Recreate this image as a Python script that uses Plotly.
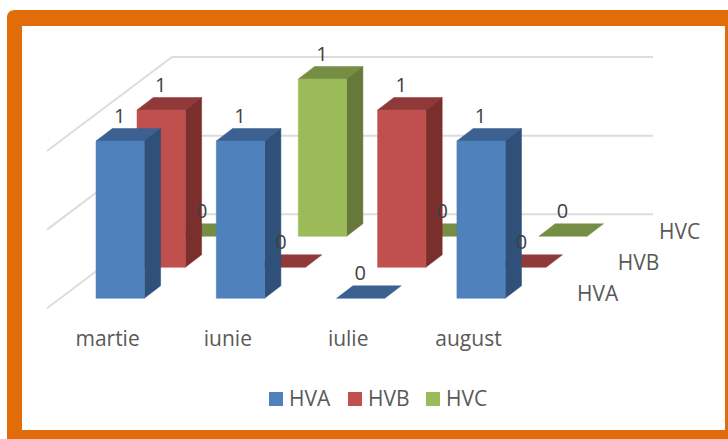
import plotly.graph_objects as go

# ---- data ----
categories = ["martie", "iunie", "iulie", "august"]
series_names = ["HVA", "HVB", "HVC"]
HVA = [1, 1, 0, 1]
HVB = [1, 0, 1, 0]
HVC = [0, 1, 0, 0]
grid_levels = [0, 0.5, 1]

# ---- style ----
FRONT = ["#4F81BD", "#C0504D", "#9BBB59"]
TOP = ["#3C6190", "#8F3A38", "#758E44"]
SIDE = ["#2F5179", "#7B2F2D", "#66793A"]
ORANGE = "#E36C0A"
FONT = "Open Sans, sans-serif"

# ---- oblique projection (pixel space) ----
X0, Y0 = 96.0, 298.3
CAT_STEP, BAR_W = 120.3, 48.3
SER_DX, SER_DY = 41.0, -31.0
DEP_DX, DEP_DY = 16.3, -12.5
UNIT_H = 157.3


def px(cat, ser, val=0.0, u=0.0, d=0.0):
    x = X0 + cat * CAT_STEP + ser * SER_DX + u * BAR_W + d * DEP_DX
    y = Y0 + ser * SER_DY - val * UNIT_H + d * DEP_DY
    return x, y


def poly(points, color, edge=None):
    xs = [p[0] for p in points] + [points[0][0]]
    ys = [p[1] for p in points] + [points[0][1]]
    return go.Scatter(x=xs, y=ys, mode="lines", fill="toself", fillcolor=color,
                      line=dict(color=edge or color, width=0.5),
                      hoverinfo="skip", showlegend=False)


fig = go.Figure()
all_series = [HVA, HVB, HVC]

# walls: grid lines
WALL_L, WALL_R = 172.0, 653.0
WALL_Y0 = 214.3
WALL_DX, WALL_DY = -125.0, 94.0
for g in grid_levels:
    yb = WALL_Y0 - g * UNIT_H
    fig.add_trace(go.Scatter(x=[WALL_L + WALL_DX, WALL_L, WALL_R],
                             y=[yb + WALL_DY, yb, yb], mode="lines",
                             line=dict(color="#DCDCDC", width=2),
                             hoverinfo="skip", showlegend=False))

# bars, back row first
for s in [2, 1, 0]:
    vals = all_series[s]
    for c, v in enumerate(vals):
        a = px(c, s, v, 0, 0)
        b = px(c, s, v, 1, 0)
        e = px(c, s, v, 1, 1)
        f = px(c, s, v, 0, 1)
        fig.add_trace(poly([a, b, e, f], TOP[s]))
        if v > 0:
            p0 = px(c, s, 0, 0, 0)
            p1 = px(c, s, 0, 1, 0)
            p2 = px(c, s, 0, 1, 1)
            fig.add_trace(poly([b, e, p2, p1], SIDE[s]))
            fig.add_trace(poly([a, b, p1, p0], FRONT[s]))

# data labels
for s in [2, 1, 0]:
    vals = all_series[s]
    pts = [px(c, s, v, 0.5, 0) for c, v in enumerate(vals)]
    fig.add_trace(go.Scatter(x=[p[0] - 0.5 for p in pts], y=[p[1] - 23 for p in pts],
                             mode="text", text=[str(v) for v in vals],
                             textposition="middle center",
                             textfont=dict(family=FONT, size=20, color="#404040"),
                             hoverinfo="skip", showlegend=False))

# category labels
cat_pts = [px(c, 0, 0, 0.25, 0) for c in range(len(categories))]
fig.add_trace(go.Scatter(x=[p[0] - 0.5 for p in cat_pts], y=[341] * len(categories),
                         mode="text", text=categories, textposition="middle center",
                         textfont=dict(family=FONT, size=21, color="#595959"),
                         hoverinfo="skip", showlegend=False))

# series (depth) labels
ser_pts = [px(len(categories), s, 0, 0.05, 0) for s in range(3)]
fig.add_trace(go.Scatter(x=[p[0] + 18 for p in ser_pts], y=[p[1] - 3 for p in ser_pts],
                         mode="text", text=series_names, textposition="middle center",
                         textfont=dict(family=FONT, size=21, color="#595959"),
                         hoverinfo="skip", showlegend=False))

# legend
LEG_X = [276, 355, 433]
for i, name in enumerate(series_names):
    fig.add_trace(go.Scatter(x=[LEG_X[i]], y=[399], mode="markers",
                             marker=dict(symbol="square", size=14, color=FRONT[i], line=dict(width=0)),
                             hoverinfo="skip", showlegend=False))
    fig.add_trace(go.Scatter(x=[LEG_X[i] + 13], y=[401], mode="text", text=[name],
                             textposition="middle right",
                             textfont=dict(family=FONT, size=21, color="#595959"),
                             hoverinfo="skip", showlegend=False))

# frame
shapes = [
    dict(type="path", layer="below", xref="x", yref="y",
         path="M 7 18 Q 7 10 15 10 L 740 10 L 740 450 L 7 450 Z",
         fillcolor=ORANGE, line=dict(width=0)),
    dict(type="rect", layer="below", xref="x", yref="y", x0=22, y0=26, x1=725, y1=430,
         fillcolor="white", line=dict(width=0)),
]

fig.update_layout(
    width=728, height=439, margin=dict(l=0, r=0, t=0, b=0),
    paper_bgcolor="white", plot_bgcolor="white", showlegend=False, shapes=shapes,
    xaxis=dict(range=[0, 728], visible=False, fixedrange=True),
    yaxis=dict(range=[439, 0], visible=False, fixedrange=True),
)
fig.write_html("out.html", config={"displayModeBar": False},
               post_script="document.body.style.margin='0';document.documentElement.style.overflow='hidden';")
